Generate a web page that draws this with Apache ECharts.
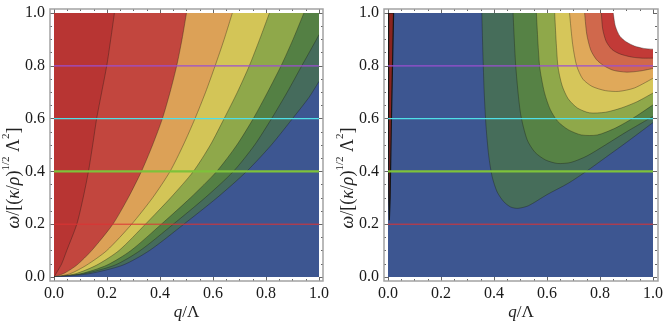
<!DOCTYPE html>
<html>
<head>
<meta charset="utf-8">
<script src="https://cdn.jsdelivr.net/npm/echarts@6/dist/echarts.min.js"></script>
<style>
  html, body { margin: 0; padding: 0; background: #fff; }
  #chart { width: 666px; height: 327px; }
</style>
</head>
<body>
<div id="chart"></div>
<script>
// tick values
const ticksMajor = [0, 0.2, 0.4, 0.6, 0.8, 1];
const ticksMinor = [0.05, 0.1, 0.15, 0.25, 0.3, 0.35, 0.45, 0.5, 0.55, 0.65, 0.7, 0.75, 0.85, 0.9, 0.95];

// horizontal reference levels (omega)
const refLevels = [0.2, 0.4, 0.6, 0.8];

// left panel: contour boundaries [q, omega], from the origin outwards
const leftB1 = [[0,0],[0.012,0.02],[0.029,0.05],[0.048,0.1],[0.086,0.2],[0.11,0.3],[0.13,0.4],[0.146,0.5],[0.161,0.6],[0.18,0.7],[0.199,0.8],[0.214,0.9],[0.228,1]];
const leftB2 = [[0,0],[0.04,0.015],[0.086,0.045],[0.142,0.1],[0.222,0.2],[0.28,0.3],[0.33,0.4],[0.372,0.5],[0.409,0.6],[0.438,0.7],[0.463,0.8],[0.483,0.9],[0.5,1]];
const leftB3 = [[0,0],[0.06,0.012],[0.123,0.045],[0.199,0.1],[0.293,0.2],[0.372,0.3],[0.438,0.4],[0.488,0.5],[0.532,0.6],[0.572,0.7],[0.608,0.8],[0.642,0.9],[0.673,1]];
const leftB4 = [[0,0],[0.08,0.012],[0.161,0.045],[0.245,0.1],[0.345,0.2],[0.44,0.3],[0.526,0.4],[0.59,0.5],[0.642,0.6],[0.692,0.7],[0.737,0.8],[0.776,0.9],[0.813,1]];
const leftB5 = [[0,0],[0.1,0.012],[0.2,0.045],[0.29,0.1],[0.405,0.2],[0.515,0.3],[0.614,0.4],[0.69,0.5],[0.752,0.6],[0.806,0.7],[0.857,0.8],[0.902,0.9],[0.943,1]];
const leftB6 = [[0,0],[0.11,0.012],[0.23,0.045],[0.325,0.1],[0.45,0.2],[0.57,0.3],[0.677,0.4],[0.757,0.5],[0.821,0.6],[0.88,0.7],[0.935,0.8],[0.985,0.89],[1,0.918]];
const leftB7 = [[0,0],[0.13,0.012],[0.26,0.045],[0.36,0.1],[0.49,0.2],[0.615,0.3],[0.727,0.4],[0.82,0.5],[0.9,0.6],[0.962,0.68],[1,0.741]];

// right panel: contour boundaries [q, omega], from the top edge round to the right edge
const rightC1 = [[0.354,1],[0.358,0.85],[0.363,0.7],[0.37,0.57],[0.38,0.46],[0.393,0.38],[0.412,0.322],[0.437,0.285],[0.463,0.265],[0.49,0.26],[0.53,0.27],[0.6,0.312],[0.68,0.355],[0.748,0.4],[0.82,0.452],[0.9,0.51],[1,0.585]];
const rightC2 = [[0.472,1],[0.482,0.8],[0.5,0.62],[0.525,0.52],[0.555,0.472],[0.595,0.443],[0.64,0.43],[0.69,0.434],[0.75,0.458],[0.82,0.5],[0.9,0.55],[1,0.608]];
const rightC3 = [[0.56,1],[0.572,0.8],[0.59,0.7],[0.612,0.635],[0.64,0.59],[0.68,0.558],[0.73,0.538],[0.79,0.538],[0.86,0.565],[0.93,0.605],[1,0.652]];
const rightC4 = [[0.629,1],[0.641,0.8],[0.657,0.725],[0.68,0.675],[0.715,0.64],[0.76,0.622],[0.82,0.624],[0.88,0.64],[0.94,0.664],[1,0.697]];
const rightC5 = [[0.685,1],[0.697,0.88],[0.712,0.8],[0.735,0.75],[0.77,0.722],[0.82,0.706],[0.87,0.703],[0.93,0.716],[1,0.753]];
const rightC6 = [[0.742,1],[0.75,0.92],[0.765,0.86],[0.787,0.823],[0.815,0.8],[0.85,0.783],[0.9,0.776],[0.95,0.78],[1,0.79]];
const rightC7 = [[0.805,1],[0.81,0.94],[0.823,0.893],[0.845,0.862],[0.875,0.845],[0.92,0.833],[0.96,0.829],[1,0.829]];
const rightC8 = [[0.85,1],[0.858,0.95],[0.875,0.912],[0.9,0.89],[0.93,0.875],[0.965,0.866],[1,0.863]];

// thin spike near q = 0 in the right panel
const rightSpike = [[0.002,1],[0.002,0.6],[0.003,0.3],[0.005,0.215],[0.008,0.3],[0.013,0.6],[0.021,1]];

// styles
const leftBase = '#b83533';
const leftFills = ['#c2463e', '#dca157', '#d3c557', '#8fa84a', '#548044', '#456b5c', '#3d5691'];
const rightBase = '#3d5691';
const rightFills = ['#466d5a', '#568245', '#8fa84a', '#d6c65a', '#e0a95a', '#d0684c', '#c23a37', '#ffffff'];
const refColors = ['#dd3434', '#7ec23a', '#4fe0e8', '#9b4fd0'];
const refWidths = [1, 2.4, 1.3, 1.3];
const serif = 'Liberation Serif';

const panels = [
  { left: 54, top: 13, width: 265, height: 264 },
  { left: 388, top: 13, width: 266, height: 264 }
];

const chart = echarts.init(document.getElementById('chart'));

function sideAxis(g, pos, ticks, len, labels) {
  return {
    gridIndex: g, type: 'value', min: 0, max: 1, position: pos, offset: 4,
    axisLine: { show: false, onZero: false },
    splitLine: { show: false },
    axisTick: { show: true, inside: true, length: len, customValues: ticks,
      lineStyle: { color: '#666', width: 1 } },
    axisLabel: { show: labels, customValues: ticks, formatter: v => v.toFixed(1),
      margin: 5, fontFamily: serif, fontSize: 16, color: '#1a1a1a' }
  };
}

const xAxes = [], yAxes = [];
panels.forEach((p, g) => {
  xAxes.push(sideAxis(g, 'bottom', ticksMajor, 4, true));
  xAxes.push(sideAxis(g, 'bottom', ticksMinor, 2, false));
  xAxes.push(sideAxis(g, 'top', ticksMajor, 4, false));
  xAxes.push(sideAxis(g, 'top', ticksMinor, 2, false));
  yAxes.push(sideAxis(g, 'left', ticksMajor, 4, true));
  yAxes.push(sideAxis(g, 'left', ticksMinor, 2, false));
  yAxes.push(sideAxis(g, 'right', ticksMajor, 4, false));
  yAxes.push(sideAxis(g, 'right', ticksMinor, 2, false));
});

// polygon for the region beyond a boundary; corners are repeated so smoothing keeps them sharp
function regionSeries(g, curves, fills, corners) {
  return {
    type: 'custom', xAxisIndex: g * 4, yAxisIndex: g * 4, clip: true, silent: true,
    data: curves.map(c => c[0]),
    renderItem: (params, api) => {
      const c = curves[params.dataIndex];
      const first = c[0], last = c[c.length - 1];
      let outline = [first, first].concat(c, [last, last]);
      corners(c).forEach(p => { outline = outline.concat([p, p, p]); });
      return {
        type: 'group',
        children: [
          { type: 'polygon', shape: { points: outline.map(p => api.coord(p)), smooth: 0.25 },
            style: { fill: fills[params.dataIndex] } },
          { type: 'polyline', shape: { points: c.map(p => api.coord(p)), smooth: 0.25 },
            style: { fill: null, stroke: 'rgba(25,25,20,0.45)', lineWidth: 0.8 } }
        ]
      };
    }
  };
}

const series = [];
series.push(regionSeries(0, [leftB1, leftB2, leftB3, leftB4, leftB5, leftB6, leftB7], leftFills,
  c => c[c.length - 1][1] >= 1 ? [[1, 1], [1, 0]] : [[1, 0]]));
series.push(regionSeries(1, [rightC1, rightC2, rightC3, rightC4, rightC5, rightC6, rightC7, rightC8], rightFills,
  c => [[1, 1]]));
series.push({
  type: 'custom', xAxisIndex: 4, yAxisIndex: 4, clip: true, silent: true,
  data: [rightSpike[0]],
  renderItem: (params, api) => ({
    type: 'polygon', shape: { points: rightSpike.map(p => api.coord(p)) },
    style: { fill: '#8a2420', stroke: '#151515', lineWidth: 1.2 }
  })
});

panels.forEach((p, g) => {
  refLevels.forEach((lv, i) => {
    series.push({
      type: 'line', xAxisIndex: g * 4, yAxisIndex: g * 4, silent: true, symbol: 'none',
      data: [[0, lv], [1, lv]],
      lineStyle: { color: refColors[i], width: refWidths[i] }, z: 5
    });
  });
});

const richT = {
  i: { fontFamily: serif, fontSize: 18, fontStyle: 'italic', lineHeight: 26, fill: '#222' },
  n: { fontFamily: serif, fontSize: 18, lineHeight: 26, fill: '#222' },
  s: { fontFamily: serif, fontSize: 11, lineHeight: 26, verticalAlign: 'top', fill: '#222' }
};
const richX = {
  i: { fontFamily: serif, fontSize: 17, fontStyle: 'italic', fill: '#222' },
  n: { fontFamily: serif, fontSize: 17, fill: '#222' }
};
const graphics = [];
panels.forEach(p => {
  graphics.push({
    type: 'rect', silent: true, z: 50,
    shape: { x: p.left - 4, y: p.top - 4, width: p.width + 8, height: p.height + 8 },
    style: { fill: 'none', stroke: '#a3a3a3', lineWidth: 1.5 }
  });
  graphics.push({
    type: 'text', silent: true, x: p.left + p.width / 2, y: 313,
    style: { text: '{i|q}{n|/Λ}', rich: richX, align: 'center', verticalAlign: 'middle' }
  });
  graphics.push({
    type: 'text', silent: true, x: p.left - 40, y: 178, rotation: Math.PI / 2,
    style: { text: '{i|ω}{n|/[(}{i|κ}{n|/}{i|ρ}{n|)}{s|1/2}{n| Λ}{s|2}{n|]}', rich: richT,
      align: 'center', verticalAlign: 'middle' }
  });
});

chart.setOption({
  animation: false,
  backgroundColor: '#fff',
  grid: panels.map((p, g) => ({
    left: p.left, top: p.top, width: p.width, height: p.height,
    show: true, borderWidth: 0, backgroundColor: g === 0 ? leftBase : rightBase
  })),
  xAxis: xAxes,
  yAxis: yAxes,
  series: series,
  graphic: graphics
});
</script>
</body>
</html>
